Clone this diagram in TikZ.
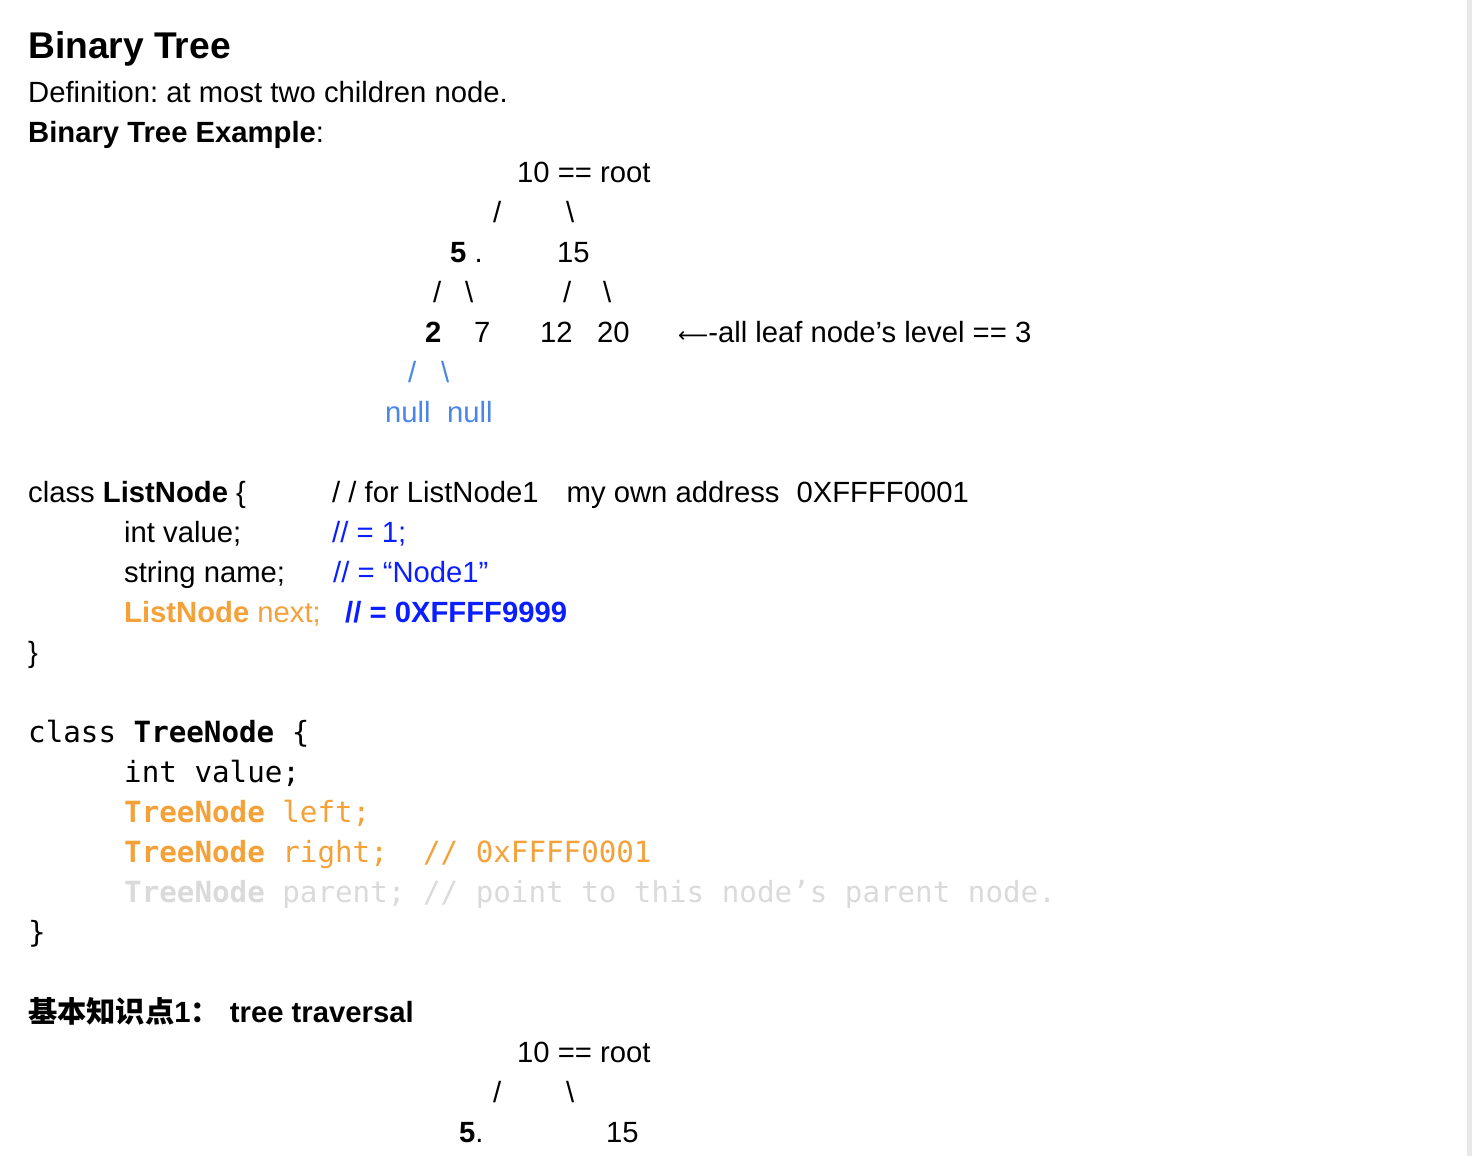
\documentclass[tikz,border=0pt]{standalone}
\usepackage{fontspec}
\setmainfont{Liberation Sans}
\setmonofont{DejaVu Sans Mono}
\newfontfamily\cjk{Noto Sans CJK SC}
\newfontfamily\arrowfont{DejaVu Sans}
\usepackage{tikz}
\frenchspacing

\definecolor{nullblue}{HTML}{4A86E8}
\definecolor{codeblue}{HTML}{0A1EFF}
\definecolor{fieldorange}{HTML}{F4A13A}
\definecolor{fadegray}{HTML}{DADADA}

\tikzset{
  txt/.style={anchor=base west, inner sep=0pt, font=\fontsize{29.25}{35}\selectfont},
  code/.style={txt, font=\fontsize{29.2}{35}\selectfont\ttfamily},
  title/.style={txt, font=\fontsize{37.2}{44}\selectfont\bfseries},
}

\begin{document}
\begin{tikzpicture}[x=1pt,y=-1pt]
\useasboundingbox (0,0) rectangle (1472,1156);
\fill[black!9] (1467,0) rectangle (1472,1156);
% heading
\node[title] (head) at (28,58.5) {Binary Tree};
\node[txt] (defn) at (28,102) {Definition: at most two children node.};
\node[txt] (exmp) at (28,142) {\textbf{Binary Tree Example}:};
% first tree
\node[txt] (root) at (517,182) {10 == root};
\node[txt] (rl) at (493,222) {/};
\node[txt] (rr) at (566,222) {\textbackslash};
\node[txt] (n5) at (450,262) {\textbf{5} .};
\node[txt] (n15) at (557,262) {15};
\node[txt] (al) at (433,302) {/};
\node[txt] (ar) at (465,302) {\textbackslash};
\node[txt] (bl) at (563,302) {/};
\node[txt] (br) at (603,302) {\textbackslash};
\node[txt] (n2) at (425,342) {\textbf{2}};
\node[txt] (n7) at (474,342) {7};
\node[txt] (n12) at (540,342) {12};
\node[txt] (n20) at (597,342) {20};
\node[txt] (note) at (678,342) {{\arrowfont\fontsize{21}{25}\selectfont ⟵}-all leaf node’s level == 3};
\node[txt, nullblue] (cl) at (408,382) {/};
\node[txt, nullblue] (cr) at (441,382) {\textbackslash};
\node[txt, nullblue] (nl1) at (385,422) {null};
\node[txt, nullblue] (nl2) at (447,422) {null};
% class ListNode
\node[txt] (lcls) at (28,502) {class \textbf{ListNode} \{};
\node[txt] (laddr) at (332,502) {/ / for ListNode1\hspace{28pt}my own address\hspace{17pt}0XFFFF0001};
\node[txt] (lval) at (124,542) {int value;};
\node[txt, codeblue] (lvalc) at (332,542) {// = 1;};
\node[txt] (lname) at (124,582) {string name;};
\node[txt, codeblue] (lnamec) at (333,582) {// = “Node1”};
\node[txt, fieldorange] (lnext) at (124,622) {\textbf{ListNode} next;};
\node[txt, codeblue] (lnextc) at (345,622) {\textbf{// = 0XFFFF9999}};
\node[txt] (lend) at (28,662) {\}};
% class TreeNode
\node[code] (tcls) at (28,742) {class \textbf{TreeNode} \{};
\node[code] (tval) at (124,782) {int value;};
\node[code, fieldorange] (tleft) at (124,822) {\textbf{TreeNode} left;};
\node[code, fieldorange] (tright) at (124,862) {\textbf{TreeNode} right;\ \ // 0xFFFF0001};
\node[code, fadegray] (tpar) at (124,902) {\textbf{TreeNode} parent; // point to this node’s parent node.};
\node[code] (tend) at (28,942) {\}};
% traversal
\node[txt] (trav) at (28,1022) {{\cjk\bfseries 基本知识点}\textbf{1}{\cjk\bfseries ：}\hspace{10pt}\textbf{tree traversal}};
\node[txt] (root2) at (517,1062) {10 == root};
\node[txt] (sl) at (493,1102) {/};
\node[txt] (sr) at (566,1102) {\textbackslash};
\node[txt] (m5) at (459,1142) {\textbf{5}.};
\node[txt] (m15) at (606,1142) {15};
\end{tikzpicture}
\end{document}
